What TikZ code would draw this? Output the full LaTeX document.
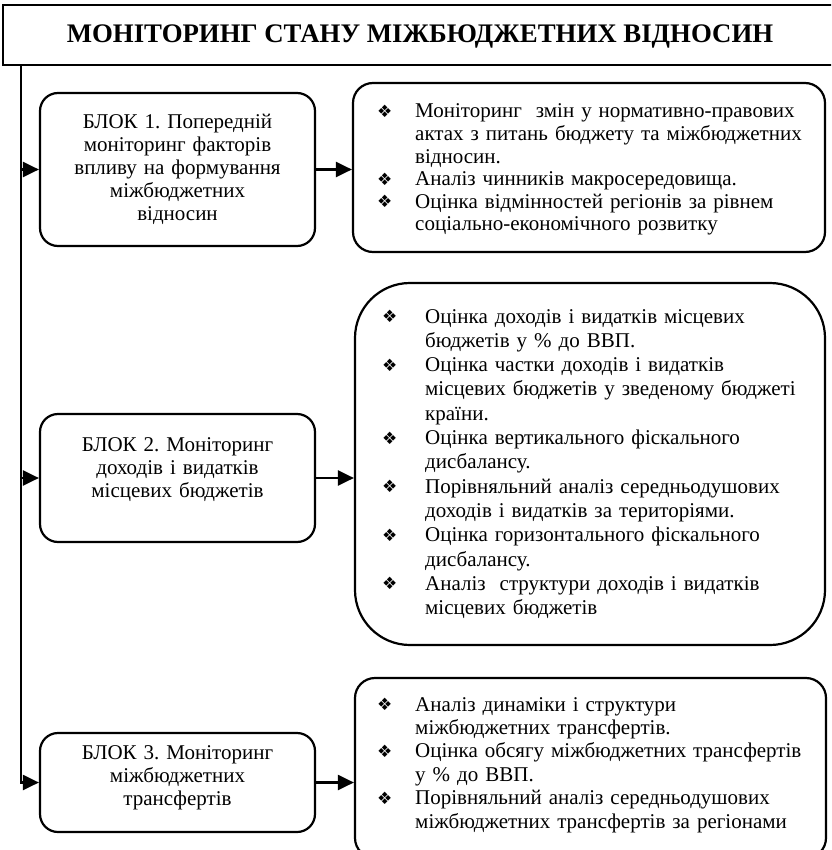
\documentclass[tikz,border=0pt]{standalone}
\usepackage{fontspec}
\setmainfont{Liberation Serif}
\newfontfamily\dingfont{DejaVu Sans}
\usetikzlibrary{arrows.meta}
\frenchspacing

% bullet glyph set in a box of the given width (hanging indent of the item)
\newcommand{\dbul}[1]{\makebox[#1][l]{\raisebox{0.5pt}{\dingfont\fontsize{17pt}{17pt}\selectfont ❖}}}

\tikzset{
  frame/.style={draw, line width=2.2pt, rounded corners=#1, inner sep=0pt},
  frame/.default=18pt,
  headbox/.style={draw, line width=2.4pt, inner sep=0pt},
  headtext/.style={inner sep=0pt, font=\fontsize{26.8pt}{30pt}\selectfont\bfseries},
  blocktext/.style={inner sep=0pt, text width=270pt, align=center,
    font=\fontsize{21pt}{23pt}\selectfont},
  listtext/.style={inner sep=0pt, text width=450pt, align=left,
    font=\fontsize{21pt}{#1}\selectfont},
  arrow/.style={line width=2.2pt, -{Triangle[length=16pt,width=15pt]}}
}

\begin{document}
\begin{tikzpicture}[x=1pt,y=-1pt]
\useasboundingbox (0,0) rectangle (831,850);
\clip (0,0) rectangle (831,850);

% heading
\node[headbox, minimum width=842pt, minimum height=60pt] (head) at (424,35) {};
\node[headtext, anchor=base] (headtxt) at (420,43) {МОНІТОРИНГ СТАНУ МІЖБЮДЖЕТНИХ ВІДНОСИН};

% left column: the three blocks
\node[frame, minimum width=275pt, minimum height=153pt] (b1) at (177.5,169.5) {};
\node[blocktext, anchor=base] (b1t) at (177.5,129)
  {БЛОК 1. Попередній\\моніторинг факторів\\впливу на формування\\міжбюджетних\\відносин};

\node[frame, minimum width=275pt, minimum height=128pt] (b2) at (177.5,478) {};
\node[blocktext, anchor=base] (b2t) at (177.5,451)
  {БЛОК 2. Моніторинг\\доходів і видатків\\ місцевих бюджетів};

\node[frame, minimum width=275pt, minimum height=99pt] (b3) at (177.5,782.5) {};
\node[blocktext, anchor=base] (b3t) at (177.5,759)
  {БЛОК 3. Моніторинг\\міжбюджетних\\трансфертів};

% right column: lists of tasks
\node[frame=20pt, minimum width=472pt, minimum height=169pt] (r1) at (589,167.5) {};
\node[listtext=22.6pt, anchor=base west] (r1t) at (377,118) {%
\dbul{38pt}\makebox[405pt][s]{Моніторинг\ \ змін у нормативно-правових}\\
\hspace*{38pt}\makebox[405pt][s]{актах з питань бюджету та міжбюджетних}\\
\hspace*{38pt}відносин.\\
\dbul{38pt}Аналіз чинників макросередовища.\\
\dbul{38pt}Оцінка відмінностей регіонів за рівнем\\
\hspace*{38pt}соціально-економічного розвитку};

\node[frame=55pt, minimum width=470pt, minimum height=362pt] (r2) at (590,464) {};
\node[listtext=24.3pt, anchor=base west] (r2t) at (382,323) {%
\dbul{43pt}Оцінка доходів і видатків місцевих\\
\hspace*{43pt}бюджетів у \% до ВВП.\\
\dbul{43pt}Оцінка частки доходів і видатків\\
\hspace*{43pt}місцевих бюджетів у зведеному бюджеті\\
\hspace*{43pt}країни.\\
\dbul{43pt}Оцінка вертикального фіскального\\
\hspace*{43pt}дисбалансу.\\
\dbul{43pt}Порівняльний аналіз середньодушових\\
\hspace*{43pt}доходів і видатків за територіями.\\
\dbul{43pt}Оцінка горизонтального фіскального\\
\hspace*{43pt}дисбалансу.\\
\dbul{43pt}Аналіз\ \ структури доходів і видатків\\
\hspace*{43pt}місцевих бюджетів};

\node[frame=20pt, minimum width=471pt, minimum height=180pt] (r3) at (590.5,768) {};
\node[listtext=23.4pt, anchor=base west] (r3t) at (377,711) {%
\dbul{38pt}Аналіз динаміки і структури\\
\hspace*{38pt}міжбюджетних трансфертів.\\
\dbul{38pt}Оцінка обсягу міжбюджетних трансфертів\\
\hspace*{38pt}у \% до ВВП.\\
\dbul{38pt}Порівняльний аналіз середньодушових\\
\hspace*{38pt}міжбюджетних трансфертів за регіонами};

% connectors
\coordinate (trunk) at ([xshift=19pt]head.south west);
\draw[arrow] (trunk) |- (b3.west);
\draw[arrow] (trunk |- b1.west) -- (b1.west);
\draw[arrow] (trunk |- b2.west) -- (b2.west);

\draw[arrow] (b1.east) -- (b1.east -| r1.west);
\draw[arrow] (b2.east) -- (b2.east -| r2.west);
\draw[arrow] (b3.east) -- (b3.east -| r3.west);
\end{tikzpicture}
\end{document}
